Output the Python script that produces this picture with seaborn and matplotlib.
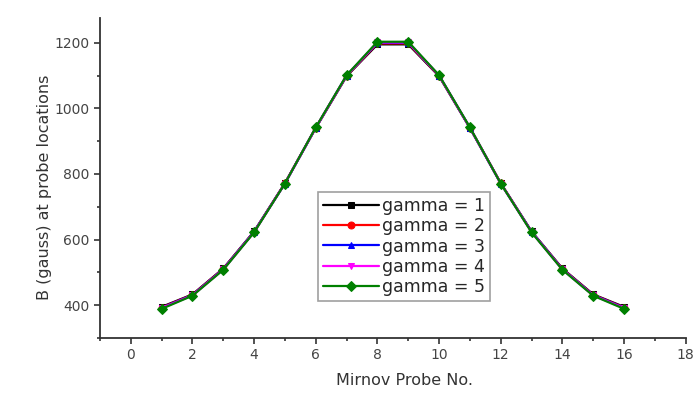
import matplotlib
matplotlib.use("Agg")
import matplotlib.pyplot as plt
import seaborn as sns
import pandas as pd
from matplotlib.ticker import MultipleLocator

probe = [1, 2, 3, 4, 5, 6, 7, 8, 9, 10, 11, 12, 13, 14, 15, 16]
gamma1 = [395, 433, 512, 625, 772, 940, 1098, 1195, 1195, 1098, 940, 772, 625, 512, 433, 395]
gamma2 = [393, 432, 511, 624, 772, 941, 1099, 1198, 1198, 1099, 941, 772, 624, 511, 432, 393]
gamma3 = [392, 431, 510, 624, 771, 941, 1100, 1200, 1200, 1100, 941, 771, 624, 510, 431, 392]
gamma4 = [391, 430, 509, 623, 771, 941, 1100, 1201, 1201, 1100, 941, 771, 623, 509, 430, 391]
gamma5 = [389, 429, 508, 622, 771, 942, 1101, 1203, 1203, 1101, 942, 771, 622, 508, 429, 389]
labels = ["gamma = 1", "gamma = 2", "gamma = 3", "gamma = 4", "gamma = 5"]

series = [gamma1, gamma2, gamma3, gamma4, gamma5]
colors = ["#000000", "#ff0000", "#0000ff", "#ff00ff", "#008000"]
markers = ["s", "o", "^", "v", "D"]

sns.set_style("ticks")
plt.rcParams['font.family'] = ['DejaVu Sans']

fig = plt.figure(figsize=(6.99, 3.94), dpi=100)
ax = fig.add_axes([0.143, 0.142, 0.838, 0.812])

for lab, vals, c, m in zip(labels, series, colors, markers):
    df = pd.DataFrame({"x": probe, "y": vals})
    sns.lineplot(data=df, x="x", y="y", ax=ax, color=c, marker=m,
                 markersize=5 if m != "D" else 5.5,
                 markeredgecolor=c, linewidth=1.6, label=lab)

ax.set_xlim(-1, 18)
ax.set_ylim(300, 1275)
ax.xaxis.set_major_locator(MultipleLocator(2))
ax.xaxis.set_minor_locator(MultipleLocator(1))
ax.yaxis.set_major_locator(MultipleLocator(200))
ax.yaxis.set_minor_locator(MultipleLocator(100))
ax.set_yticks([400, 600, 800, 1000, 1200])
ax.tick_params(axis="both", which="major", length=4, width=1.2, labelsize=10, colors="#333333", labelcolor="#444444")
ax.tick_params(axis="both", which="minor", length=2.5, width=1.2, colors="#333333")
for s in ["top", "right"]:
    ax.spines[s].set_visible(False)
for s in ["left", "bottom"]:
    ax.spines[s].set_linewidth(1.3)
    ax.spines[s].set_color("#333333")

ax.set_xlabel("Mirnov Probe No.", fontsize=11.5, color="#333333")
ax.set_ylabel("B (gauss) at probe locations", fontsize=11.5, color="#333333")
ax.xaxis.set_label_coords(0.52, -0.11)
ax.yaxis.set_label_coords(-0.082, 0.472)

leg = ax.legend(loc="lower left", bbox_to_anchor=(0.372, 0.116), fontsize=12.5, frameon=True,
                fancybox=False, edgecolor="#888888", handlelength=3.2, handletextpad=0.2,
                labelspacing=0.12, borderpad=0.3, borderaxespad=0)
leg.get_frame().set_linewidth(1.2)

fig.savefig("out.png", dpi=100)
